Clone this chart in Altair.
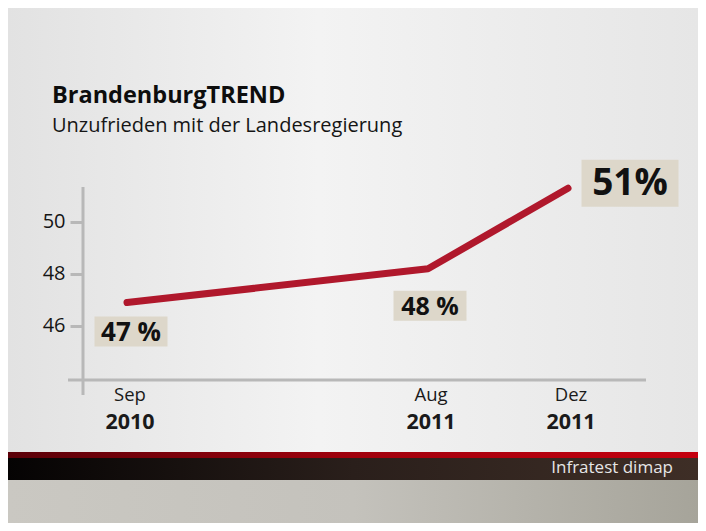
import altair as alt
import pandas as pd

# ---- data ----
months = ["Sep", "Aug", "Dez"]
years = ["2010", "2011", "2011"]
month_index = [0, 11, 15]
values = [46.9, 48.2, 51.3]
labels = ["47 %", "48 %", "51%"]
y_ticks = [46, 48, 50]

title_text = "BrandenburgTREND"
subtitle_text = "Unzufrieden mit der Landesregierung"
source_text = "Infratest dimap"

df = pd.DataFrame({"month": months, "year": years, "idx": month_index,
                   "value": values, "label": labels})
one = pd.DataFrame({"k": [0]})

FONT = "Open Sans"
W, H = 563, 193

x_scale = alt.Scale(domain=month_index, range=[44, 345, 485], nice=False, zero=False)
y_scale = alt.Scale(domain=[43.923, 51.346], nice=False, zero=False)

def grad(stops, vertical=False):
    return alt.Gradient(
        gradient="linear",
        stops=[alt.GradientStop(color=c, offset=o) for o, c in stops],
        x1=0, x2=0 if vertical else 1, y1=0, y2=1 if vertical else 0,
    )

def rect(x, x2, y, y2, fill):
    return alt.Chart(one).mark_rect(fill=fill, strokeWidth=0).encode(
        x=alt.value(x), x2=alt.value(x2), y=alt.value(y), y2=alt.value(y2))

def text(t, x, y, size, weight="normal", color="#151515", align="left"):
    return alt.Chart(one).mark_text(
        text=t, font=FONT, fontSize=size, fontWeight=weight, color=color,
        align=align, baseline="alphabetic").encode(x=alt.value(x), y=alt.value(y))

layers = []
# backgrounds
layers.append(rect(-75, 615, -179, 265,
                   grad([(0, "#e2e2e2"), (0.45, "#f3f3f3"), (1, "#e6e6e6")])))
layers.append(rect(-75, 615, 265, 271,
                   grad([(0, "#5a0008"), (0.5, "#a0000c"), (1, "#c4000f")])))
layers.append(rect(-75, 615, 271, 293,
                   grad([(0, "#050303"), (0.5, "#2a1f1b"), (1, "#3e2e26")])))
layers.append(rect(-75, 615, 293, 336,
                   grad([(0, "#cac8c2"), (0.5, "#c4c2bc"), (1, "#a6a49a")])))
layers.append(text(source_text, 590, 286, 17, color="#e6e6e6", align="right"))

# titles
layers.append(text(title_text, -31, -84, 23.5, weight="bold", color="#0d0d0d"))
layers.append(text(subtitle_text, -31, -55, 20))

# axis lines
axis_col = "#b8b8b8"
layers.append(alt.Chart(one).mark_rule(color=axis_col, strokeWidth=3).encode(
    x=alt.value(-15), x2=alt.value(W), y=alt.value(H)))
layers.append(alt.Chart(one).mark_rule(color=axis_col, strokeWidth=3).encode(
    x=alt.value(0), y=alt.value(0), y2=alt.value(H + 15)))

base = alt.Chart(df).encode(
    x=alt.X("idx:Q", scale=x_scale, axis=None),
    y=alt.Y("value:Q", scale=y_scale,
            axis=alt.Axis(values=y_ticks, domain=False, grid=False, title=None,
                          tickColor=axis_col, tickWidth=3, tickSize=13,
                          labelPadding=5, labelFont=FONT, labelFontSize=20,
                          labelColor="#151515", zindex=1)),
)

layers.append(base.mark_line(color="#b0182c", strokeWidth=7,
                             strokeCap="round", strokeJoin="round"))

# x labels
layers.append(alt.Chart(df).mark_text(font=FONT, fontSize=18.5, color="#1a1a1a",
                                      baseline="alphabetic", dx=3).encode(
    x=alt.X("idx:Q", scale=x_scale, axis=None), y=alt.value(214), text="month:N"))
layers.append(alt.Chart(df).mark_text(font=FONT, fontSize=21.5, fontWeight="bold",
                                      color="#1a1a1a", baseline="alphabetic", dx=3).encode(
    x=alt.X("idx:Q", scale=x_scale, axis=None), y=alt.value(242), text="year:N"))

# value labels (boxes)
box_style = [(4, 29, 73, 30, 26), (2, 37, 73, 30, 25), (62, -5, 97, 47, 37)]
for i, (dx, dy, bw, bh, fs) in enumerate(box_style):
    r = bh / bw
    path = f"M-1,{-r:.4f}L1,{-r:.4f}L1,{r:.4f}L-1,{r:.4f}Z"
    sub = base.transform_filter(alt.datum.idx == month_index[i])
    layers.append(sub.mark_point(shape=path, size=bw * bw, filled=True,
                                 fill="#ddd7ca", opacity=1, strokeWidth=0,
                                 xOffset=dx, yOffset=dy))
    layers.append(sub.mark_text(font=FONT, fontSize=fs, fontWeight="bold",
                                color="#111111", dx=dx, dy=dy + 1,
                                baseline="middle", align="center").encode(text="label:N"))

chart = alt.layer(*layers).properties(
    width=W, height=H,
    padding={"left": 75, "top": 179, "right": 52, "bottom": 143},
    autosize=alt.AutoSizeParams(type="none"),
    background="#e8e8e8",
).configure_view(stroke=None)

chart.save("out.html", embed_options={"renderer": "svg", "actions": False})
